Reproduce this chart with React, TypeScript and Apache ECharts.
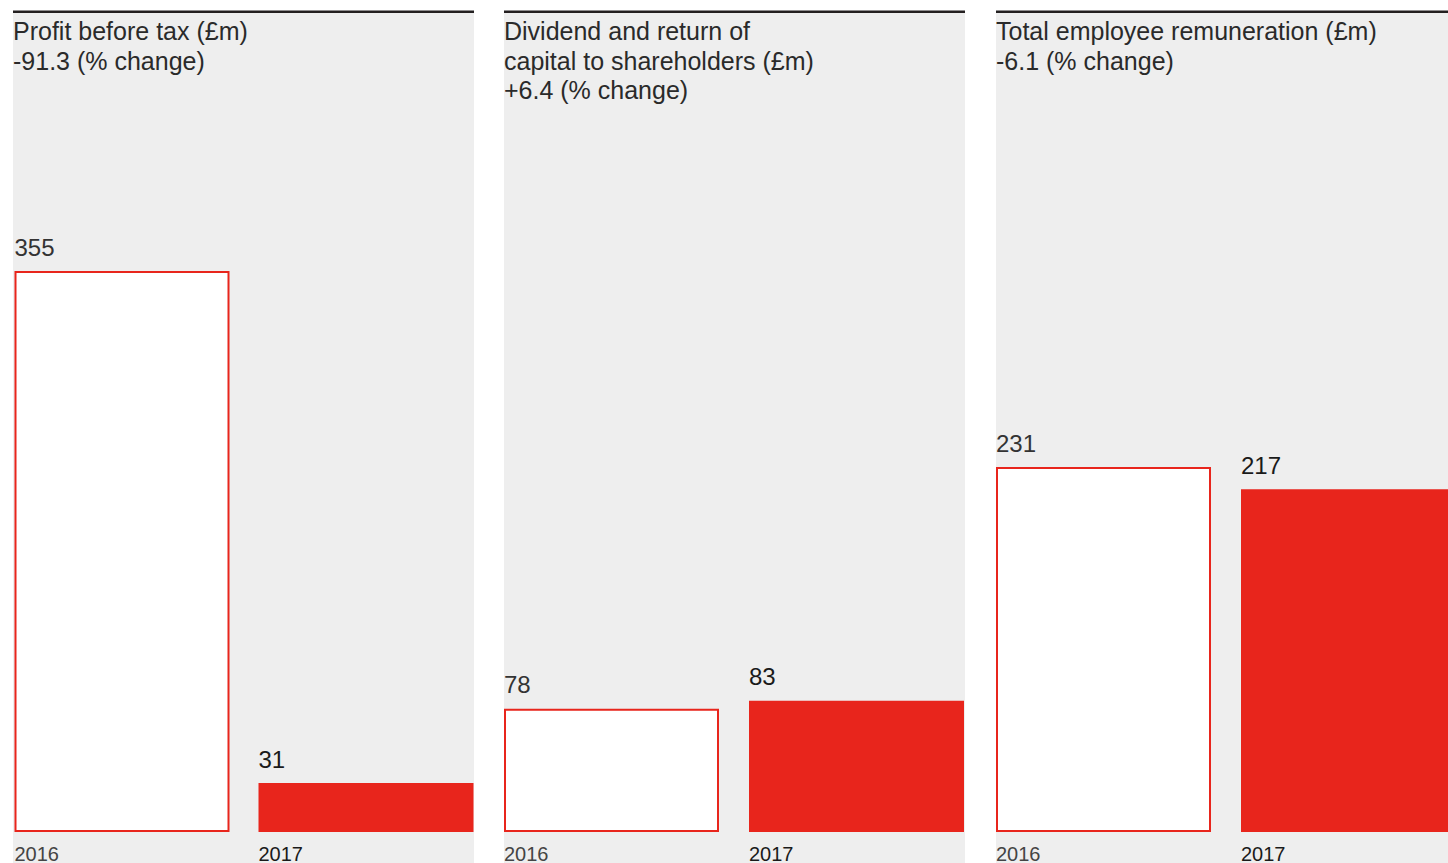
import React, { useEffect, useRef } from "react";
import * as echarts from "echarts";

const years = ["2016", "2017"];
const titles = [
  ["Profit before tax (£m)", "-91.3 (% change)"],
  ["Dividend and return of", "capital to shareholders (£m)", "+6.4 (% change)"],
  ["Total employee remuneration (£m)", "-6.1 (% change)"],
];
const profitValues = [355, 31];
const dividendValues = [78, 83];
const remunerationValues = [231, 217];
const panelValues = [profitValues, dividendValues, remunerationValues];

const RED = "#e8251c";
const BG = "#eeeeee";
const FONT = '"Liberation Sans", Arial, sans-serif';
const panelLefts = [13, 504, 996];
const panelWidth = 461;
const CHART_W = 1480;

export default function App() {
  const ref = useRef<HTMLDivElement>(null);
  useEffect(() => {
    if (!ref.current) return;
    const chart = echarts.init(ref.current, null, { renderer: "svg" });

    const grids: any[] = [];
    const xAxes: any[] = [];
    const yAxes: any[] = [];
    const series: any[] = [];
    const graphics: any[] = [];

    panelLefts.forEach((L, i) => {
      grids.push({ left: L - 15, width: 490, top: 42, bottom: 31, containLabel: false });
      xAxes.push({
        type: "category",
        gridIndex: i,
        data: years,
        show: false,
      });
      yAxes.push({ type: "value", gridIndex: i, min: 0, max: 500, show: false });
      const vals = panelValues[i];
      series.push({
        type: "bar",
        xAxisIndex: i,
        yAxisIndex: i,
        barWidth: 215,
        barGap: "-100%",
        silent: true,
        z: 3,
        data: vals.map((v, j) =>
          j === 0
            ? {
                value: v,
                itemStyle: { color: "#ffffff", borderColor: RED, borderWidth: 2 },
                label: { color: "#333333" },
              }
            : { value: v, itemStyle: { color: RED }, label: { color: "#1a1a1a" } }
        ),
        label: {
          show: true,
          position: [0, -24],
          align: "left",
          verticalAlign: "middle",
          fontSize: 24,
          fontFamily: FONT,
        },
      });
      series.push({
        type: "bar",
        xAxisIndex: i,
        yAxisIndex: i,
        barWidth: 215,
        barGap: "-100%",
        silent: true,
        z: 3,
        itemStyle: { color: "rgba(0,0,0,0)" },
        data: years.map((y, j) => ({
          value: 0,
          label: { color: j === 0 ? "#444444" : "#1a1a1a" },
        })),
        label: {
          show: true,
          formatter: "{b}",
          position: [0, 22],
          align: "left",
          verticalAlign: "middle",
          fontSize: 20,
          lineHeight: 16,
          fontFamily: FONT,
        },
      });
      graphics.push({
        type: "rect",
        z: -10,
        shape: { x: L, y: 12, width: panelWidth, height: 860 },
        style: { fill: BG },
        silent: true,
      });
      graphics.push({
        type: "rect",
        z: -5,
        shape: { x: L, y: 10.5, width: panelWidth, height: 2.5 },
        style: { fill: "#231f20" },
        silent: true,
      });
      graphics.push({
        type: "text",
        x: L,
        y: 16.25,
        silent: true,
        style: {
          text: titles[i].join("\n"),
          fontSize: 25,
          fontFamily: FONT,
          fill: "#2a2a2a",
          lineHeight: 29.5,
          align: "left",
          verticalAlign: "top",
        },
      });
    });

    chart.setOption({
      animation: false,
      backgroundColor: "#ffffff",
      grid: grids,
      xAxis: xAxes,
      yAxis: yAxes,
      series,
      graphic: graphics,
    });
    return () => chart.dispose();
  }, []);
  return (
    <div
      style={{
        position: "fixed",
        left: 0,
        top: 0,
        width: 1448,
        height: 863,
        overflow: "hidden",
      }}
    >
      <div ref={ref} style={{ width: CHART_W, height: 863 }} />
    </div>
  );
}
